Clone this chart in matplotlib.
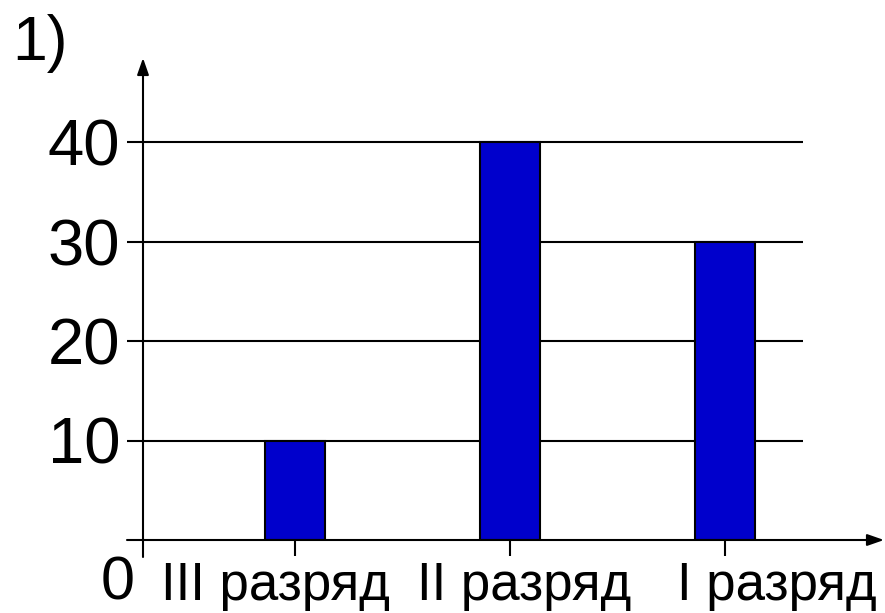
import numpy as np
import matplotlib
matplotlib.use("Agg")
import matplotlib.pyplot as plt

# Data
categories = ["III разряд", "II разряд", "I разряд"]
values = [10, 40, 30]
yticks = [10, 20, 30, 40]

plt.rcParams['font.family'] = ['Liberation Sans', 'DejaVu Sans']

W, H = 885, 613
fig = plt.figure(figsize=(W / 100, H / 100), dpi=100)

# axes box in pixels: origin at (143, 540), top at 60, right at 880
x0, y0, x1, y1 = 143, 540, 880, 60
ax = fig.add_axes([x0 / W, 1 - y0 / H, (x1 - x0) / W, (y0 - y1) / H])

step = 215.0  # px per category
ax.set_xlim((x0 - 295) / step, (x1 - 295) / step)
ax.set_ylim(0, (y0 - y1) / 9.95)

x = np.arange(len(categories))
ax.bar(x, values, width=0.28, color="#0000CC", edgecolor="black", linewidth=1.5, zorder=3)

# horizontal gridlines, starting slightly left of the axis
ax.hlines(yticks, (127 - 295) / step, (803 - 295) / step, color="black",
          linewidth=1.5, clip_on=False, zorder=2)

for s in ax.spines.values():
    s.set_visible(False)

ax.set_yticks(yticks)
ax.set_yticklabels([str(v) for v in yticks], fontsize=47)
ax.tick_params(axis='y', length=0, pad=16.5)

ax.set_xticks(x)
ax.set_xticklabels([])
ax.tick_params(axis='x', length=11.5, width=1.5, direction='out')

# category labels (slightly shifted as in the original)
label_shift = [-0.09, 0.065, 0.24]
for xi, lab, dx in zip(x, categories, label_shift):
    ax.text(xi + dx, (y0 - 600) / 9.95, lab, ha='center', va='baseline',
            fontsize=38, clip_on=False)

# zero label at the origin
ax.text((118 - 295) / step, (y0 - 600) / 9.95, "0", ha='center', va='baseline',
        fontsize=44, clip_on=False)

# axes with arrows
arrow = dict(arrowstyle='-|>,head_length=1.0,head_width=0.35', color='black',
             linewidth=1.5, shrinkA=0, shrinkB=0)
ax.annotate('', xy=(143, H - 58), xytext=(143, H - 557),
            xycoords='figure pixels', textcoords='figure pixels', arrowprops=arrow)
ax.annotate('', xy=(884, H - 540), xytext=(127, H - 540),
            xycoords='figure pixels', textcoords='figure pixels', arrowprops=arrow)

fig.text(12 / W, 1 - 60 / H, "1)", fontsize=45, ha='left', va='baseline')

fig.savefig("out.png", dpi=100)
